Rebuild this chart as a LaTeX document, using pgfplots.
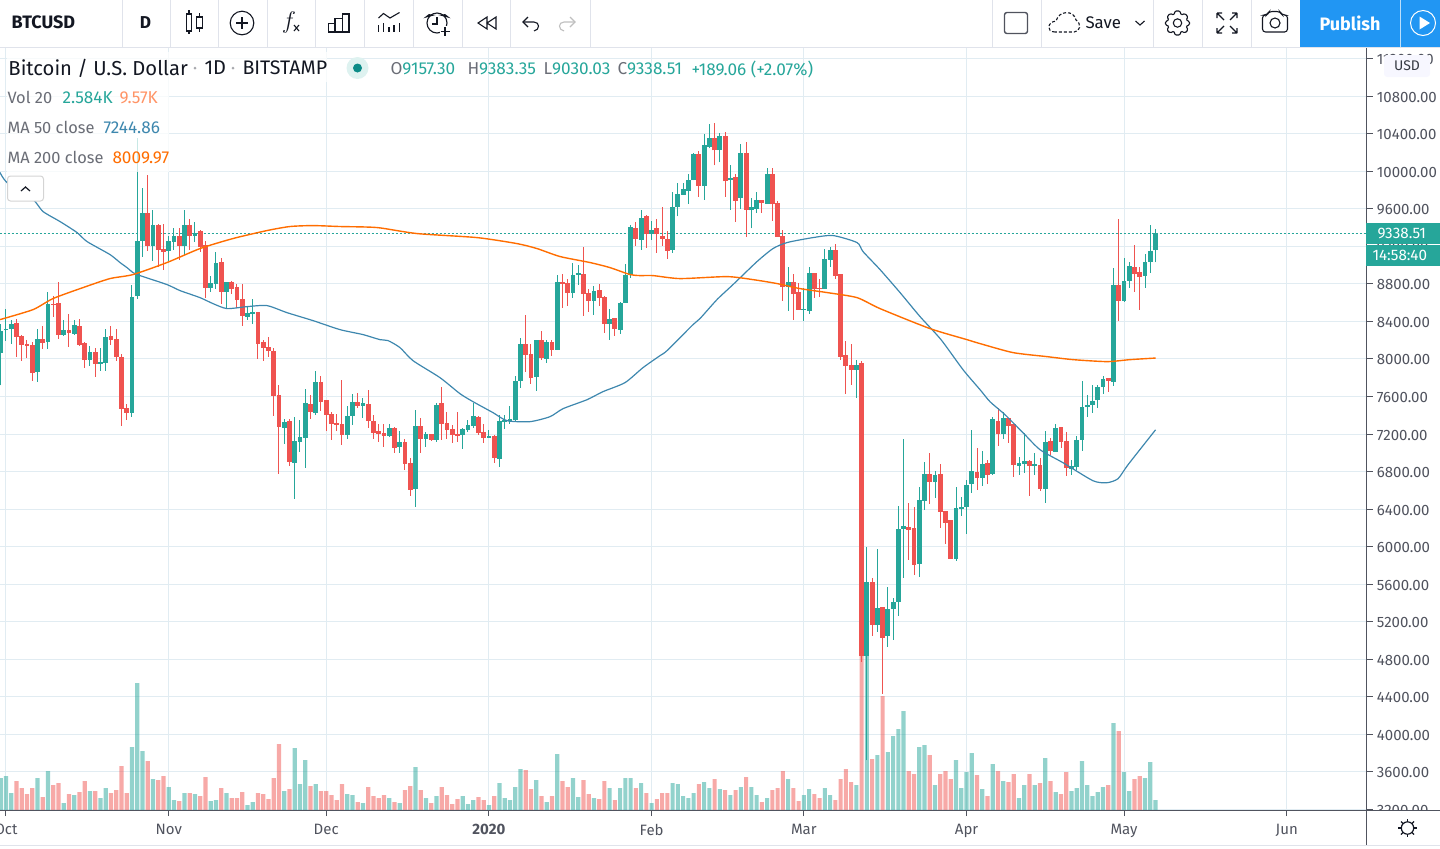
\documentclass[border=0pt]{standalone}
\usepackage{fontspec}
\setmainfont{Fira Sans}
\usepackage{pgfplots}
\usepackage{pgfplotstable}
\pgfplotsset{compat=1.18}

\definecolor{upc}{HTML}{26A69A}
\definecolor{downc}{HTML}{EF5350}
\definecolor{gridc}{HTML}{E1ECF2}
\definecolor{linec}{HTML}{50535E}
\definecolor{sepc}{HTML}{E0E3EB}
\definecolor{inkc}{HTML}{131722}
\definecolor{ma50c}{HTML}{3D87AE}
\definecolor{ma200c}{HTML}{FF6D00}
\definecolor{pubc}{HTML}{2196F3}

% d = days since 1 Oct 2019, prices in USD, volume in thousands
\pgfplotstableread{
d open high low close vol
-1 8061 8377 7720 8303 8.26
0 8306 8537 8196 8324 8.77
1 8324 8420 8164 8377 4.39
6 7865 8324 7759 8217 8.26
8 8185 8719 8111 8591 10.06
11 8260 8420 8249 8313 1.81
13 8271 8420 8260 8367 3.87
16 7993 8143 7929 8079 4.90
18 7951 8121 7876 7972 3.10
19 7961 8324 7876 8239 5.68
24 7428 8793 7385 8665 16.25
25 8676 10361 8644 9263 32.77
26 9263 9828 9092 9561 15.22
28 9209 9583 9049 9433 8.00
31 9156 9316 9049 9263 5.93
32 9252 9401 9167 9316 2.58
34 9209 9593 9113 9423 4.39
36 9316 9455 9252 9348 4.13
39 8761 8889 8719 8815 2.32
40 8804 9145 8751 9028 2.58
42 8719 8825 8548 8825 4.39
46 8452 8559 8420 8495 1.29
47 8484 8644 8377 8505 2.06
53 7268 7364 7097 7332 4.90
55 6895 7385 6511 7129 16.00
56 7119 7353 7012 7172 6.71
57 7161 7684 6841 7535 12.90
59 7428 7876 7407 7759 6.71
65 7193 7503 7151 7396 4.13
66 7396 7631 7300 7545 3.87
68 7503 7588 7375 7535 1.81
73 7183 7311 7172 7268 3.10
75 7065 7236 7001 7119 1.81
78 6617 7460 6425 7289 11.09
80 7151 7225 7065 7204 3.10
82 7140 7535 7119 7513 3.61
87 7193 7268 7044 7257 3.61
88 7247 7353 7225 7300 1.55
89 7289 7535 7268 7396 2.58
92 7161 7247 7161 7183 1.29
94 6937 7407 6852 7343 6.97
95 7332 7407 7257 7353 3.10
96 7343 7503 7311 7364 2.58
97 7353 7823 7343 7769 5.93
98 7769 8228 7695 8164 10.58
101 7812 8207 7663 8207 7.74
103 8004 8207 7961 8185 2.06
105 8100 8900 8100 8825 14.45
108 8708 9028 8655 8900 8.26
109 8900 9007 8793 8921 3.35
112 8623 8783 8473 8729 3.10
115 8377 8537 8207 8431 5.68
117 8313 8612 8271 8601 5.68
118 8601 9017 8601 8900 8.26
119 8900 9423 8868 9412 8.26
121 9273 9583 9167 9508 6.97
123 9337 9476 9273 9380 1.81
127 9167 9785 9135 9625 6.97
128 9615 9871 9519 9764 6.71
129 9753 9871 9753 9807 3.61
130 9796 9977 9657 9913 3.10
131 9903 10201 9903 10180 4.39
133 9849 10393 9700 10276 7.22
134 10265 10500 10244 10361 5.68
136 10223 10404 10095 10372 5.42
138 9903 10063 9593 9924 3.87
140 9721 10297 9604 10191 5.93
142 9583 9711 9391 9625 5.93
143 9604 9785 9561 9700 3.87
145 9657 10031 9657 9977 3.10
149 8772 8985 8516 8825 8.00
152 8527 8761 8409 8537 3.87
153 8516 8985 8484 8921 5.42
156 8751 9177 8751 9071 5.68
157 9060 9199 8985 9167 3.87
162 7887 7993 7588 7940 6.45
164 4836 5999 3720 5625 39.73
166 5167 5977 5092 5348 14.19
168 5049 5572 4932 5337 14.96
169 5337 5455 5007 5412 19.09
170 5412 6436 5263 6191 20.90
171 6191 7151 5668 6223 25.54
174 5817 6639 5679 6500 16.25
175 6489 6905 6393 6777 16.77
177 6692 6809 6521 6767 6.45
181 5871 6639 5849 6415 12.90
182 6404 6532 6329 6425 5.68
183 6425 6713 6137 6660 9.80
184 6671 7247 6575 6809 14.71
186 6735 7023 6649 6884 5.42
188 6777 7385 6767 7364 11.87
190 7204 7439 7151 7375 7.48
193 6863 6959 6767 6895 3.10
194 6884 7215 6788 6916 6.45
196 6863 7001 6767 6884 6.45
198 6617 7236 6468 7119 13.42
200 7012 7311 7012 7268 4.64
203 6831 6927 6767 6863 4.90
204 6852 7183 6820 7140 5.68
205 7140 7769 7023 7492 12.64
206 7492 7620 7385 7513 6.45
207 7513 7727 7428 7556 3.61
208 7567 7727 7481 7705 4.64
209 7705 7823 7631 7791 5.93
211 7759 8975 7716 8793 22.45
213 8623 9081 8612 8836 9.80
214 8836 9039 8761 8996 4.90
217 8889 9124 8761 9039 8.26
218 9039 9423 8921 9156 12.38
219 9157.30 9383.35 9030.03 9338.51 2.584
}\upT

\pgfplotstableread{
d open high low close vol
2 8388 8431 8025 8239 7.48
3 8249 8260 7983 8153 5.68
4 8164 8207 8015 8143 4.13
5 8153 8185 7769 7855 5.68
7 8217 8356 8111 8175 3.35
9 8591 8676 8452 8580 6.45
10 8601 8825 8217 8260 6.97
12 8313 8484 8132 8281 4.13
14 8356 8431 8143 8153 4.64
15 8175 8185 7908 7993 7.48
17 8079 8121 7812 7951 4.90
20 8249 8356 8153 8207 4.39
21 8217 8324 7983 8025 5.16
22 8025 8057 7289 7471 11.35
23 7481 7524 7353 7428 4.39
27 9551 9956 9156 9209 12.64
29 9433 9444 8985 9167 7.74
30 9177 9444 8953 9145 8.77
33 9316 9391 9060 9209 2.32
35 9423 9487 9167 9316 4.39
37 9359 9380 9145 9199 3.61
38 9220 9263 8655 8761 8.51
41 9039 9081 8591 8719 5.68
43 8825 8836 8697 8751 3.10
44 8772 8804 8548 8633 3.10
45 8644 8804 8356 8463 4.64
48 8505 8505 8004 8164 4.39
49 8185 8207 7983 8121 4.13
50 8132 8239 8025 8089 2.84
51 8089 8121 7396 7609 8.26
52 7620 7727 6777 7279 17.03
54 7343 7364 6863 6905 5.42
58 7524 7620 7364 7439 6.19
60 7759 7823 7449 7545 4.90
61 7567 7567 7236 7407 4.90
62 7417 7439 7140 7311 3.87
63 7321 7417 7236 7300 2.58
64 7311 7780 7087 7193 6.71
67 7545 7641 7481 7503 2.06
69 7524 7673 7268 7343 5.93
70 7343 7407 7151 7215 3.61
71 7236 7311 7119 7204 3.10
72 7215 7311 7065 7183 3.87
74 7268 7279 7001 7055 2.06
76 7119 7151 6820 6884 5.16
77 6895 6948 6543 6607 6.19
79 7289 7375 7001 7151 5.16
81 7204 7204 7129 7140 1.81
83 7535 7705 7140 7311 5.93
84 7321 7439 7151 7247 3.87
85 7257 7300 7108 7193 1.55
86 7204 7439 7119 7183 2.84
90 7385 7396 7193 7215 3.35
91 7225 7311 7108 7161 2.58
93 7183 7193 6895 6948 3.61
99 8164 8473 7865 8047 10.32
100 8057 8164 7737 7801 5.42
102 8207 8303 7993 8015 3.61
104 8185 8207 8036 8100 3.61
106 8825 8911 8548 8804 7.48
107 8815 8857 8569 8708 5.93
110 8911 9199 8463 8697 7.74
111 8708 8751 8505 8623 4.13
113 8740 8804 8569 8655 2.84
114 8665 8676 8281 8377 7.48
116 8441 8441 8249 8324 2.58
120 9391 9455 9209 9284 5.68
122 9519 9540 9188 9327 4.39
124 9391 9487 9135 9327 2.84
125 9316 9625 9209 9284 4.39
126 9284 9359 9071 9156 4.39
132 10180 10212 9732 9849 6.71
135 10361 10511 10063 10223 8.00
137 10372 10415 9732 9892 5.16
139 9935 9977 9465 9689 5.16
141 10201 10308 9305 9593 8.51
144 9700 9700 9561 9668 2.06
146 9977 10031 9476 9647 5.16
147 9668 9689 9305 9305 5.68
148 9316 9380 8623 8772 10.06
150 8825 8911 8420 8697 5.68
151 8719 8815 8527 8527 2.32
154 8921 8921 8655 8751 4.13
155 8761 8857 8665 8751 3.10
158 9167 9231 8857 8889 2.58
159 8911 8911 7993 8025 8.00
160 8047 8196 7631 7929 10.58
161 7940 8164 7727 7887 7.22
163 7961 7983 4772 4836 49.02
165 5625 5668 5049 5167 13.16
167 5359 5359 4431 5028 29.41
172 6212 6468 5860 6180 10.06
173 6201 6425 5700 5807 9.29
176 6777 7001 6457 6692 14.19
178 6777 6884 6201 6372 9.29
179 6383 6383 6031 6255 10.06
180 6287 6287 5871 5871 8.00
185 6799 7055 6607 6735 9.03
187 6895 6927 6671 6767 3.61
189 7343 7481 7076 7204 10.06
191 7375 7375 7108 7289 7.22
192 7311 7311 6745 6873 9.29
195 6916 6927 6543 6863 9.29
197 6873 6948 6596 6617 6.97
199 7129 7161 6980 7023 7.48
201 7279 7279 7055 7119 4.13
202 7129 7225 6756 6841 9.80
210 7801 7801 7652 7769 6.45
212 8793 9497 8409 8623 20.38
215 8985 9220 8719 8911 8.00
216 8932 8985 8527 8879 8.77
}\downT

\pgfplotsset{
  chartbase/.style={
    at={(0pt,-405pt)}, anchor=south west,
    scale only axis, width=683.25pt, height=381pt,
    xmin=-1.143, xmax=259.19
  },
  wick/.style={draw=none, mark=none, forget plot,
    error bars/.cd, y dir=plus, y explicit, error mark=none,
    error bar style={draw=#1, solid, line width=0.5pt}},
  body/.style={draw=none, mark=none, forget plot,
    error bars/.cd, y dir=plus, y explicit, error mark=none,
    error bar style={draw=#1, solid, line width=2.4pt}},
}

\begin{document}
\begin{tikzpicture}
\path[use as bounding box] (0pt,0pt) rectangle (720pt,-424pt);

% grid, price scale and time scale
\begin{axis}[chartbase,
    ymin=3192, ymax=11315,
    axis x line*=bottom, axis y line*=right,
    axis line style={linec, line width=0.5pt},
    ytick={3200,3600,...,11200},
    xtick={0,31,61,92,123,152,183,213,244},
    xticklabels={Oct,Nov,Dec,\textbf{2020},Feb,Mar,Apr,May,Jun},
    grid=major, grid style={gridc, line width=0.5pt},
    tick style={linec, line width=0.5pt},
    major tick length=3pt, tick align=outside,
    ticklabel style={text=linec, font=\fontsize{7.5pt}{9pt}\selectfont},
    xticklabel style={yshift=-0.5pt},
    yticklabel style={inner sep=2pt, yshift=-0.5pt},
    scaled y ticks=false,
    y tick label style={/pgf/number format/.cd, fixed, fixed zerofill, precision=2, 1000 sep={}, assume math mode=true},
  ]
\end{axis}

% volume
\begin{axis}[chartbase, hide axis, ymin=0, ymax=196.6, ybar, bar width=2.1pt, bar shift=0pt]
  \addplot[fill=upc, fill opacity=0.5, draw=none] table[x=d, y=vol] {\upT};
  \addplot[fill=downc, fill opacity=0.5, draw=none] table[x=d, y=vol] {\downT};
\end{axis}

% candles and moving averages
\begin{axis}[chartbase, hide axis, ymin=3192, ymax=11315]
  \addplot[upc, line width=0.5pt, dash pattern=on 1pt off 1pt] coordinates {(-2,9338.51) (260,9338.51)};
  \addplot[wick=upc] table[x=d, y=low, y error plus expr=\thisrow{high}-\thisrow{low}] {\upT};
  \addplot[wick=downc] table[x=d, y=low, y error plus expr=\thisrow{high}-\thisrow{low}] {\downT};
  \addplot[body=upc] table[x=d, y=open, y error plus expr=\thisrow{close}-\thisrow{open}] {\upT};
  \addplot[body=downc] table[x=d, y=close, y error plus expr=\thisrow{open}-\thisrow{close}] {\downT};
  \addplot[ma50c, line width=0.6pt, smooth, tension=0.4] coordinates {
    (-1.14,9988)(0.19,9881)(5.14,9700)(7.05,9572)(10.29,9465)(13.53,9348)(15.43,9252)(19.81,9113)
    (21.72,9028)(23.05,8974)(24.2,8921)(25.53,8889)(30.67,8793)(33.15,8729)(36.96,8654)(39.44,8590)
    (42.1,8537)(45.91,8558)(49.72,8569)(53.53,8494)(58.49,8409)(63.63,8313)(68.01,8260)(71.25,8206)
    (72.78,8196)(75.06,8121)(77.54,7982)(82.68,7801)(86.49,7630)(88.97,7545)(92.78,7428)(95.45,7342)
    (99.83,7332)(103.64,7385)(106.11,7470)(110.69,7566)(113.74,7652)(117.93,7748)(121.36,7908)
    (124.6,8036)(125.93,8089)(130.88,8366)(132.2,8430)(135.45,8633)(138.5,8793)(143.07,9038)
    (146.12,9177)(148.79,9241)(153.74,9294)(157.55,9316)(162.13,9241)(163.27,9145)(166.51,8953)
    (170.32,8708)(174.13,8452)(178.13,8206)(182.32,7886)(185.56,7673)(187.46,7545)(190.32,7406)
    (193.75,7214)(196.99,7033)(201.37,6894)(207.09,6702)(209.75,6681)(211.85,6724)(213.76,6873)(219,7244.86)};
  \addplot[ma200c, line width=0.7pt, smooth, tension=0.4] coordinates {
    (-1.14,8420)(5.14,8526)(8.95,8644)(14.67,8761)(19.81,8857)(24.2,8900)(30.67,9028)(36.96,9177)
    (43.25,9284)(49.72,9369)(54.1,9412)(58.49,9422)(63.63,9412)(70.68,9401)(78.3,9337)(89.73,9294)
    (97.35,9230)(101.16,9177)(105.55,9092)(111.26,9028)(115.07,8974)(118.88,8900)(120.79,8889)
    (123.26,8889)(128.41,8857)(137.36,8878)(142.31,8846)(146.88,8804)(151.27,8750)(156.41,8708)
    (162.13,8654)(166.51,8537)(176.03,8324)(183.08,8206)(185.56,8164)(191.85,8068)(198.32,8025)
    (203.28,7993)(209.75,7972)(214.14,7993)(219,8009.97)};
\end{axis}

% everything around the plot, in image pixels
\begin{scope}[x=0.5pt, y=-0.5pt, line width=0.5pt]
  % panes around the axes
  \fill[white] (1367,811) rectangle (1440,848);
  \draw[linec] (0,810) -- (1440,810);
  \draw[linec] (1366.5,48) -- (1366.5,845);
  \draw[sepc] (0,845.5) -- (1440,845.5);

  % price labels
  \fill[upc] (1366,222.5) rectangle (1440,243.5);
  \fill[upc] (1366,245) rectangle (1440,266);
  \node[text=white, font=\fontsize{7.6pt}{9pt}\selectfont, anchor=west, inner sep=0] at (1377,233) {9338.51};
  \node[text=white, font=\fontsize{7.6pt}{9pt}\selectfont, anchor=west, inner sep=0] at (1372,255) {14:58:40};
  \fill[rounded corners=1.5pt, fill=blue!3!white] (1384,55) rectangle (1430,77);
  \node[text=inkc!85, font=\fontsize{7pt}{9pt}\selectfont] at (1407,65.5) {USD};

  % legend panel
  \fill[white, opacity=0.75] (7,52) rectangle (327,82);
  \fill[white, opacity=0.75] (7,82) rectangle (169,172);
  \node[anchor=west, inner sep=0, text=inkc, font=\fontsize{10.1pt}{11pt}\selectfont] at (8,68) {Bitcoin / U.S. Dollar};
  \fill[linec!50] (195,68) circle (1.5);
  \node[anchor=west, inner sep=0, text=inkc, font=\fontsize{10pt}{11pt}\selectfont] at (204,68) {1D};
  \fill[linec!50] (233,68) circle (1.5);
  \node[anchor=west, inner sep=0, text=inkc, font=\fontsize{9.8pt}{11pt}\selectfont] at (242,68) {BITSTAMP};
  \fill[upc!15] (357.5,68) circle (11);
  \fill[teal!70!upc] (357.5,68) circle (4.5);
  \begin{scope}[every node/.style={anchor=west, inner sep=0, font=\fontsize{8.6pt}{10pt}\selectfont}]
    \node[text=linec!85] at (390,69) {O\textcolor{upc}{9157.30}};
    \node[text=linec!85] at (467,69) {H\textcolor{upc}{9383.35}};
    \node[text=linec!85] at (543,69) {L\textcolor{upc}{9030.03}};
    \node[text=linec!85] at (617,69) {C\textcolor{upc}{9338.51}};
    \node[text=upc] at (691,69) {+189.06 (+2.07\%)};
    \node[text=linec!85, font=\fontsize{8.2pt}{10pt}\selectfont] at (7,97.5) {Vol 20};
    \node[text=upc] at (62,97.5) {2.584K};
    \node[text=orange!60!red!60!white] at (119,97.5) {9.57K};
    \node[text=linec!85, font=\fontsize{8.2pt}{10pt}\selectfont] at (7,127.5) {MA 50 close};
    \node[text=ma50c] at (103,127.5) {7244.86};
    \node[text=linec!85, font=\fontsize{8.2pt}{10pt}\selectfont] at (7,157.5) {MA 200 close};
    \node[text=ma200c] at (112,157.5) {8009.97};
  \end{scope}
  \draw[fill=white, draw=black!17, rounded corners=1.5pt] (7.5,176) rectangle (43.5,201);
  \draw[inkc, line width=0.6pt] (21,191) -- (25.5,187) -- (30,191);

  % top toolbar
  \fill[white] (0,0) rectangle (1440,47);
  \draw[sepc, line width=0.8pt] (0,47.5) -- (1440,47.5);
  \foreach \s in {122,170,218,267,315,364,413,462,510,590,992,1041,1153,1202,1251}
    \draw[sepc, line width=0.5pt] (\s,0) -- (\s,47);
  \fill[pubc] (1300,0) rectangle (1440,47);
  \draw[white!70!pubc] (1400.5,0) -- (1400.5,47);
  \node[text=inkc, font=\fontsize{9pt}{10pt}\selectfont\bfseries, anchor=west, inner sep=0] at (11,22.5) {BTCUSD};
  \node[text=inkc, font=\fontsize{8.6pt}{10pt}\selectfont\bfseries] at (145.5,22.5) {D};
  \begin{scope}[inkc, line width=0.55pt]
    % chart style
    \draw (189,10) -- (189,14) (189,31) -- (189,34) (199.5,13) -- (199.5,17) (199.5,28) -- (199.5,32);
    \draw (186.7,14) rectangle (191.7,31);
    \draw (196.8,17) rectangle (202.2,28);
    % plus in circle
    \draw (242,23) circle (11.8);
    \draw (236,23) -- (248,23) (242,17) -- (242,29);
    % fx
    \node[inner sep=0, font=\fontsize{13pt}{13pt}\selectfont] at (289,22) {$f$};
    \draw (294,25) -- (299,31) (299,25) -- (294,31);
    % compare bars
    \draw (328.5,23.5) rectangle (335,32) (335,18.5) rectangle (342.5,32) (342.5,14) rectangle (349,32);
    % indicator line
    \draw (378.5,18) -- (383.5,13.5) -- (390,18) -- (399.5,12.5);
    \foreach \a/\b in {378.5/25,383.5/23,389/27,394/25,399.5/23}
      \draw (\a,\b) -- (\a,32);
    % alarm
    \draw (437,23) circle (10);
    \draw (437,17) -- (437,24) -- (432,24);
    \draw (426,17) arc (210:300:5) -- cycle (448,17) arc (-30:-120:5) -- cycle;
    \fill[white] (440,26) rectangle (453,38);
    \draw (445,27) -- (445,36) (440.5,31.5) -- (449.5,31.5);
    % replay
    \draw (487,17) -- (478,23) -- (487,29) -- cycle (496,17) -- (487,23) -- (496,29) -- cycle;
    % undo and redo
    \draw (523,22) -- (534,22) .. controls (540,22) and (540,30) .. (534,31);
    \draw (528,17) -- (523,22) -- (528,27);
    \draw[black!25] (575,22) -- (564,22) .. controls (558,22) and (558,30) .. (564,31);
    \draw[black!25] (570,17) -- (575,22) -- (570,27);
    % layout
    \draw[rounded corners=1.2pt, line width=0.7pt, linec] (1004.5,12.5) rectangle (1027.5,33.5);
    % cloud
    \draw[dash pattern=on 1.5pt off 1pt] (1055,32) .. controls (1046,32) and (1047,22) .. (1056,21) .. controls (1059,10) and (1074,10) .. (1076,20) .. controls (1082,24) and (1080,32) .. (1074,32) -- cycle;
    % chevron
    \draw (1135.5,21) -- (1140,25) -- (1144.5,21);
    % gear
    \draw (1177.5,23) circle (4.2);
    \draw[rounded corners=0.6pt] (1175,11) -- (1180,11) -- (1181,15) -- (1185,13.5) -- (1188,17) -- (1186,20) -- (1189.5,21.5) -- (1189.5,25) -- (1186,26) -- (1188,30) -- (1185,33) -- (1181,31) -- (1180,35) -- (1175,35) -- (1174,31) -- (1170,33) -- (1167,30) -- (1169,26) -- (1165.5,25) -- (1165.5,21.5) -- (1169,20) -- (1167,17) -- (1170,13.5) -- (1174,15) -- cycle;
    % fullscreen
    \draw (1217,13) -- (1224,20) (1217,13) -- (1217,18) (1217,13) -- (1222,13);
    \draw (1237,13) -- (1230,20) (1237,13) -- (1237,18) (1237,13) -- (1232,13);
    \draw (1217,33) -- (1224,26) (1217,33) -- (1217,28) (1217,33) -- (1222,33);
    \draw (1237,33) -- (1230,26) (1237,33) -- (1237,28) (1237,33) -- (1232,33);
    % camera
    \draw[rounded corners=1.5pt] (1262.5,15) -- (1267,15) -- (1269,11.5) -- (1280,11.5) -- (1282,15) -- (1287.5,15) -- (1287.5,32) -- (1262.5,32) -- cycle;
    \draw (1275,23) circle (5);
    % sun
    \draw[line width=0.6pt] (1407.5,828) circle (6.2);
    \foreach \r in {0,45,...,315}
      \draw[line width=0.6pt] (1407.5,828) ++(\r:6.2) -- ++(\r:3);
  \end{scope}
  \node[text=inkc, font=\fontsize{8.4pt}{10pt}\selectfont, anchor=west, inner sep=0] at (1085,23) {Save};
  \node[text=white, font=\fontsize{9pt}{11pt}\selectfont\bfseries, inner sep=0] at (1350,23) {Publish};
  \draw[white, line width=0.5pt] (1423,23) circle (12.5);
  \fill[white] (1419.5,16.5) -- (1419.5,29.5) -- (1430,23) -- cycle;
\end{scope}
\end{tikzpicture}
\end{document}
